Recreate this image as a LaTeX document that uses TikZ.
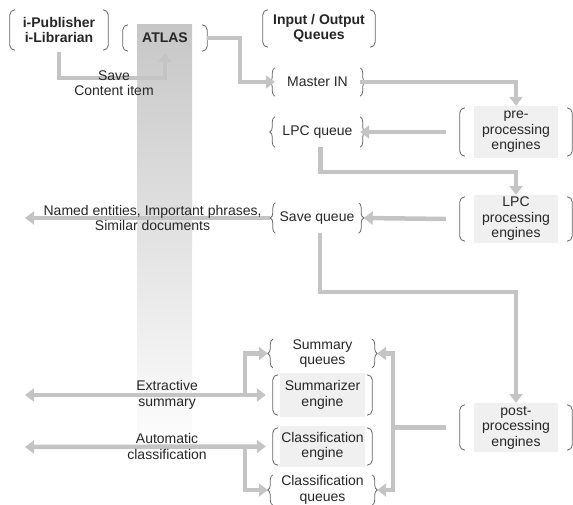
\documentclass[tikz,border=0pt]{standalone}
\usepackage{fontspec}
\setmainfont{Liberation Sans}
\usetikzlibrary{arrows.meta,decorations.pathreplacing}

\begin{document}
\begin{tikzpicture}[
  x=1pt, y=-1pt,
  font=\fontsize{14}{15.5}\selectfont,
  every node/.style={text=black!85, align=center, inner sep=0pt},
  box/.style={minimum width=#1},
  eng/.style={path picture={\fill[black!6] ([xshift=#1]path picture bounding box.south west)
              rectangle ([xshift=-#1]path picture bounding box.north east);}},
  paren/.style={draw=black!60, line width=0.8pt, rounded corners=5pt},
  brc/.style={draw=black!60, line width=0.8pt, decorate, decoration={brace, amplitude=5pt}},
  line/.style={line width=4.5pt, draw=black!23},
  flow/.style={line, -{Triangle[width=13pt,length=9pt]}},
  flowb/.style={line, {Triangle[width=13pt,length=9pt]}-{Triangle[width=13pt,length=9pt]}},
  lbl/.style={font=\fontsize{14}{15.5}\selectfont},
  hdr/.style={font=\fontsize{14}{15.5}\selectfont\bfseries},
]
\useasboundingbox (0,0) rectangle (573,505);

% ATLAS column
\shade[top color=black!22, bottom color=white] (137,25) rectangle (192,458);

% top row
\node[box=98, minimum height=44, hdr] (pub) at (59,30) {i-Publisher\\i-Librarian};
\node[box=84, minimum height=30, hdr] (atlas) at (165,38) {ATLAS};
\node[box=112, minimum height=41, hdr] (io) at (319,28.5) {Input / Output\\Queues};

% queues
\node[box=85, minimum height=28] (master) at (317.5,82) {Master IN};
\node[box=85, minimum height=30] (lpcq) at (317.5,132) {LPC queue};
\node[box=83, minimum height=30] (saveq) at (317,218) {Save queue};
\node[box=99, minimum height=28] (sumq) at (322.5,353.5) {Summary\\queues};
\node[box=99, minimum height=30] (clsq) at (322.5,490) {Classification\\queues};

% engines
\node[box=112, minimum height=52, eng=14pt] (pre) at (516,132) {pre-\\processing\\engines};
\node[box=112, minimum height=48, eng=14pt] (lpcp) at (516,219) {LPC\\processing\\engines};
\node[box=112, minimum height=49, eng=14pt] (post) at (516,427.5) {post-\\processing\\engines};
\node[box=99, minimum height=44, eng=7pt] (summ) at (322.5,395) {Summarizer\\engine};
\node[box=99, minimum height=41, eng=7pt] (clse) at (322.5,446.5) {Classification\\engine};

% brackets
\foreach \n in {pub, atlas, io, pre, lpcp, post, summ, clse} {
  \draw[paren] ([xshift=5pt,yshift=-2pt]\n.north west) -- ([yshift=-2pt]\n.north west)
    -- ([yshift=2pt]\n.south west) -- ([xshift=5pt,yshift=2pt]\n.south west);
  \draw[paren] ([xshift=-5pt,yshift=-2pt]\n.north east) -- ([yshift=-2pt]\n.north east)
    -- ([yshift=2pt]\n.south east) -- ([xshift=-5pt,yshift=2pt]\n.south east);
}
\foreach \n in {master, lpcq, saveq, sumq, clsq} {
  \draw[brc] (\n.south west) -- (\n.north west);
  \draw[brc] (\n.north east) -- (\n.south east);
}

% free ends and joints
\coordinate (namedend) at (25,218);
\coordinate (exend) at (25,395);
\coordinate (clend) at (25,447);
\coordinate (jl1) at (245,395);
\coordinate (jl2) at (245,447);
\coordinate (jr) at (393,427.5);

% flow
\draw[flow] (pub.south) -- ++(0,26) -| (atlas.south);
\node[lbl] (savelbl) at (114,83) {Save\\Content item};
\draw[flow] (atlas.east) -- ++(33,0) |- (master.west);
\draw[flow] (master.east) -| (pre.north);
\draw[flow] ([xshift=-14pt]pre.west) -- (lpcq.east);
\draw[flow] ([xshift=3pt]lpcq.south) -- ++(0,25) -| (lpcp.north);
\draw[flow] ([xshift=-14pt]lpcp.west) -- ([xshift=5pt]saveq.east);
\draw[flow] ([xshift=-5pt]saveq.west) -- (namedend)
  node[lbl, pos=0.48] (named) {Named entities, Important phrases,\\Similar documents};
\draw[flow] ([xshift=3pt]saveq.south) -- ++(0,59) -| (post.north);

\draw[line] ([xshift=-14pt]post.west) -- (jr);
\draw[flow] ([yshift=-2pt]jr) |- ([xshift=5pt]sumq.east);
\draw[flow] ([yshift=2pt]jr) |- ([xshift=5pt]clsq.east);

\draw[flowb] (exend) -- ([xshift=-7pt]summ.west)
  node[lbl, pos=0.59] (extr) {Extractive\\summary};
\draw[flow] ([yshift=2pt]jl1) |- ([xshift=-5pt]sumq.west);
\draw[flowb] (clend) -- ([xshift=-7pt]clse.west)
  node[lbl, pos=0.59] (auto) {Automatic\\classification};
\draw[flow] ([yshift=-2pt]jl2) |- ([xshift=-5pt]clsq.west);

\end{tikzpicture}
\end{document}
